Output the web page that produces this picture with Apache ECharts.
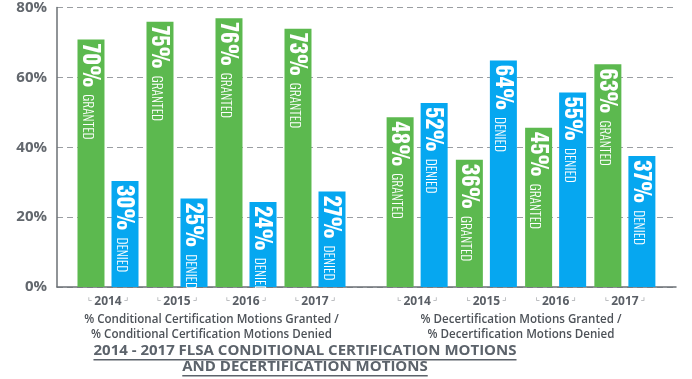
<!DOCTYPE html>
<html>
<head>
<meta charset="utf-8">
<script src="https://cdn.jsdelivr.net/npm/echarts@6/dist/echarts.min.js"></script>
<style>
html,body{margin:0;padding:0;background:#fff;}
#c{width:692px;height:379px;}
</style>
</head>
<body>
<div id="c"></div>
<script>
const years = ['2014', '2015', '2016', '2017'];
const certGranted = [70, 75, 76, 73];
const certDenied = [30, 25, 24, 27];
const decertGranted = [48, 36, 45, 63];
const decertDenied = [52, 64, 55, 37];
const yMin = 0, yMax = 80, yStep = 20;
const certAxisName = '% Conditional Certification Motions Granted /\n% Conditional Certification Motions Denied';
const decertAxisName = '% Decertification Motions Granted /\n% Decertification Motions Denied';
const titleLines = ['2014 - 2017 FLSA CONDITIONAL CERTIFICATION MOTIONS', 'AND DECERTIFICATION MOTIONS'];

const GREEN = '#5cb94f';
const BLUE = '#06a7f0';
const labelFont = "'Oswald','Roboto Condensed','Open Sans Condensed',sans-serif";

function barLabel(word) {
  return {
    show: true,
    position: 'insideTop',
    rotate: -90,
    align: 'left',
    verticalAlign: 'middle',
    distance: 4,
    color: '#fff',
    formatter: p => '{big|' + p.value + '%}{small|' + word + '}',
    rich: {
      big: { fontFamily: labelFont, fontWeight: 'bold', fontSize: 22, color: '#fff', verticalAlign: 'bottom', lineHeight: 24 },
      small: { fontFamily: labelFont, fontWeight: 300, fontSize: 13.5, color: '#fff', verticalAlign: 'bottom', lineHeight: 24, padding: [0, 0, 1, 7] }
    }
  };
}

function catAxis(gridIndex, name) {
  return {
    type: 'category', gridIndex, data: years,
    axisLine: { show: false }, axisTick: { show: false },
    axisLabel: {
      interval: 0,
      margin: 5,
      formatter: v => '{br|⌞}{y|' + v + '}{br|⌟}',
      rich: {
        y: { fontFamily: "'Open Sans',sans-serif", fontWeight: 'bold', fontSize: 12, color: '#5a5f66', padding: [0, 2, 0, 2] },
        br: { fontFamily: "'DejaVu Sans',sans-serif", fontSize: 10, color: '#a9acaf', padding: [0, 0, 9, 0] }
      }
    },
    name, nameLocation: 'middle', nameGap: 20,
    nameTextStyle: { fontFamily: "'Open Sans',sans-serif", fontWeight: 600, fontSize: 11.6, color: '#4d5258', lineHeight: 15, verticalAlign: 'top' }
  };
}

function hiddenY(gridIndex) {
  return { type: 'value', gridIndex, min: yMin, max: yMax, interval: yStep, show: false, splitLine: { show: false } };
}

const chart = echarts.init(document.getElementById('c'), null, { renderer: 'canvas' });

// measure title line widths for underline
const mctx = document.createElement('canvas').getContext('2d');
const titleFont = "bold 15px 'Open Sans', sans-serif";
mctx.font = titleFont;
const titleX = 305;
const titleYs = [352, 368];
const graphics = [];
titleLines.forEach((t, i) => {
  const w = mctx.measureText(t).width;
  graphics.push({
    type: 'text', left: titleX - w / 2, top: titleYs[i] - 9,
    style: { text: t, font: titleFont, fill: '#5c636b' }
  });
  graphics.push({
    type: 'rect', left: titleX - w / 2, top: titleYs[i] + 7,
    shape: { width: w, height: 1.5 },
    style: { fill: '#5c636b' }
  });
});

chart.setOption({
  animation: false,
  backgroundColor: '#fff',
  grid: [
    { left: 57, right: 16, top: 4, bottom: 92 },
    { left: 73.5, width: 276, top: 4, bottom: 92 },
    { left: 382.5, width: 277, top: 4, bottom: 92 }
  ],
  xAxis: [
    { type: 'category', gridIndex: 0, data: [''], axisTick: { show: false }, axisLabel: { show: false },
      axisLine: { show: true, lineStyle: { color: '#6b7075', width: 1.5 } } },
    catAxis(1, certAxisName),
    catAxis(2, decertAxisName)
  ],
  yAxis: [
    { type: 'value', gridIndex: 0, min: yMin, max: yMax, interval: yStep,
      axisLine: { show: true, lineStyle: { color: '#6b7075', width: 1.5 } },
      axisTick: { show: false },
      splitLine: { show: true, lineStyle: { color: '#9a9ea2', type: [6, 4], width: 1 } },
      axisLabel: { formatter: '{value}%', margin: 10, padding: [12, 0, 0, 0],
        fontFamily: "'Open Sans',sans-serif", fontWeight: 'bold', fontSize: 15, color: '#62676d' } },
    hiddenY(1),
    hiddenY(2)
  ],
  series: [
    { type: 'bar', name: 'Granted', xAxisIndex: 1, yAxisIndex: 1, data: certGranted, barWidth: 27, barGap: '26%', itemStyle: { color: GREEN }, label: barLabel('GRANTED') },
    { type: 'bar', name: 'Denied', xAxisIndex: 1, yAxisIndex: 1, data: certDenied, barWidth: 27, barGap: '26%', itemStyle: { color: BLUE }, label: barLabel('DENIED') },
    { type: 'bar', name: 'Granted', xAxisIndex: 2, yAxisIndex: 2, data: decertGranted, barWidth: 27, barGap: '26%', itemStyle: { color: GREEN }, label: barLabel('GRANTED') },
    { type: 'bar', name: 'Denied', xAxisIndex: 2, yAxisIndex: 2, data: decertDenied, barWidth: 27, barGap: '26%', itemStyle: { color: BLUE }, label: barLabel('DENIED') }
  ],
  graphic: graphics
});
</script>
</body>
</html>
